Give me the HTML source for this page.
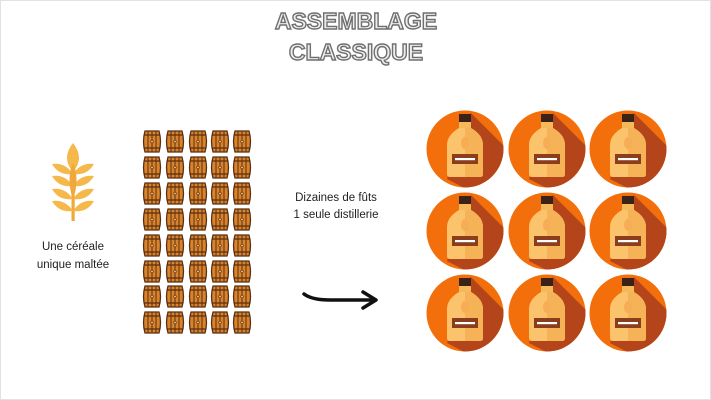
<!DOCTYPE html>
<html><head><meta charset="utf-8"><style>
html,body{margin:0;padding:0;background:#fff;}
body{width:711px;height:400px;overflow:hidden;}
svg{display:block;}
</style></head><body>
<svg width="711" height="400" viewBox="0 0 711 400" xmlns="http://www.w3.org/2000/svg">
<defs>
<g id="barrel">
  <path d="M2,1 H16 Q19,11.5 16,22 H2 Q-1,11.5 2,1 Z" fill="#d9842c" stroke="#5a2e10" stroke-width="1.3"/>
  <line x1="0.6" y1="5" x2="17.4" y2="5" stroke="#5a2e10" stroke-width="1.2"/>
  <line x1="0.6" y1="18" x2="17.4" y2="18" stroke="#5a2e10" stroke-width="1.2"/>
  <line x1="5" y1="1" x2="5" y2="22" stroke="#5a2e10" stroke-width="1"/>
  <line x1="9" y1="1" x2="9" y2="22" stroke="#5a2e10" stroke-width="1"/>
  <line x1="13" y1="1" x2="13" y2="22" stroke="#5a2e10" stroke-width="1"/>
  <circle cx="9" cy="11.5" r="1.3" fill="#f3c07a" stroke="#5a2e10" stroke-width="0.6"/>
</g>
<clipPath id="cc"><circle cx="0" cy="0" r="38.5"/></clipPath>
<g id="bottle">
  <circle cx="0" cy="0" r="38.5" fill="#f36f0c"/>
  <g clip-path="url(#cc)">
    <path d="M6,-36 L60,18 L40,60 L-18,30 Z" fill="#b4451a"/>
  </g>
  <rect x="-6" y="-35" width="12" height="9" fill="#3b2218"/>
  <rect x="-6" y="-27" width="12" height="6" fill="#f6b95a"/>
  <path d="M-6,-21 H6 Q18,-14 18,-4 V25 Q18,28 15,28 H-15 Q-18,28 -18,25 V-4 Q-18,-14 -6,-21 Z" fill="#fbc36b"/>
  <path d="M0,-21 H6 Q18,-14 18,-4 V25 Q18,28 15,28 H0 Z" fill="#f5b257"/>
  <rect x="-13" y="5" width="26" height="10" fill="#8c3d1c"/>
  <rect x="-10" y="9" width="20" height="2.2" fill="#fff"/>
  <ellipse cx="0" cy="-6" rx="4" ry="6" fill="#f7ad55"/>
</g>
<path id="leafL" d="M0,0 Q-8,-12 -21,-10 Q-14,2 0,0 Z"/>
<path id="leafR" d="M0,0 Q8,-12 21,-10 Q14,2 0,0 Z"/>
</defs>
<rect x="0.5" y="0.5" width="710" height="399" fill="none" stroke="#e2e2e2"/>
<g font-family="'Liberation Sans', sans-serif" font-weight="bold" font-size="23" fill="#eeeeee" stroke="#6f6f6f" stroke-width="1.4" text-anchor="middle">
  <text x="356" y="29">ASSEMBLAGE</text>
  <text x="356" y="60">CLASSIQUE</text>
</g>
<!-- wheat -->
<g fill="#f5b84a">
  <rect x="71.5" y="195" width="3.2" height="26" fill="#f0a83a"/>
  <path d="M73,143 Q85,158 73,172 Q61,158 73,143 Z"/>
  <use href="#leafL" x="73" y="174"/><use href="#leafR" x="73" y="174"/>
  <use href="#leafL" x="73" y="186"/><use href="#leafR" x="73" y="186"/>
  <use href="#leafL" x="73" y="199"/><use href="#leafR" x="73" y="199"/>
  <use href="#leafL" x="73" y="211"/><use href="#leafR" x="73" y="211"/>
  <path d="M73,163 Q80,178 73,200 Q66,178 73,163 Z" fill="#f0a83a"/>
</g>
<g font-family="'Liberation Sans', sans-serif" font-size="11.5" fill="#222" text-anchor="middle">
  <text x="73" y="250">Une céréale</text>
  <text x="73" y="268">unique maltée</text>
  <text x="336" y="201">Dizaines de fûts</text>
  <text x="336" y="218">1 seule distillerie</text>
</g>
<!-- barrels -->
<g>
  <use href="#barrel" x="143" y="130"/><use href="#barrel" x="166" y="130"/><use href="#barrel" x="189" y="130"/><use href="#barrel" x="211" y="130"/><use href="#barrel" x="233" y="130"/>
  <use href="#barrel" x="143" y="156"/><use href="#barrel" x="166" y="156"/><use href="#barrel" x="189" y="156"/><use href="#barrel" x="211" y="156"/><use href="#barrel" x="233" y="156"/>
  <use href="#barrel" x="143" y="182"/><use href="#barrel" x="166" y="182"/><use href="#barrel" x="189" y="182"/><use href="#barrel" x="211" y="182"/><use href="#barrel" x="233" y="182"/>
  <use href="#barrel" x="143" y="208"/><use href="#barrel" x="166" y="208"/><use href="#barrel" x="189" y="208"/><use href="#barrel" x="211" y="208"/><use href="#barrel" x="233" y="208"/>
  <use href="#barrel" x="143" y="234"/><use href="#barrel" x="166" y="234"/><use href="#barrel" x="189" y="234"/><use href="#barrel" x="211" y="234"/><use href="#barrel" x="233" y="234"/>
  <use href="#barrel" x="143" y="260"/><use href="#barrel" x="166" y="260"/><use href="#barrel" x="189" y="260"/><use href="#barrel" x="211" y="260"/><use href="#barrel" x="233" y="260"/>
  <use href="#barrel" x="143" y="285"/><use href="#barrel" x="166" y="285"/><use href="#barrel" x="189" y="285"/><use href="#barrel" x="211" y="285"/><use href="#barrel" x="233" y="285"/>
  <use href="#barrel" x="143" y="311"/><use href="#barrel" x="166" y="311"/><use href="#barrel" x="189" y="311"/><use href="#barrel" x="211" y="311"/><use href="#barrel" x="233" y="311"/>
</g>
<!-- arrow -->
<path d="M304,294 Q312,300 330,300 L375,300" fill="none" stroke="#111" stroke-width="3.5" stroke-linecap="round"/>
<path d="M363,292 L376,300 L363,308" fill="none" stroke="#111" stroke-width="3.5" stroke-linecap="round" stroke-linejoin="round"/>
<!-- bottles -->
<use href="#bottle" x="465" y="149"/><use href="#bottle" x="547" y="149"/><use href="#bottle" x="628" y="149"/>
<use href="#bottle" x="465" y="231"/><use href="#bottle" x="547" y="231"/><use href="#bottle" x="628" y="231"/>
<use href="#bottle" x="465" y="313"/><use href="#bottle" x="547" y="313"/><use href="#bottle" x="628" y="313"/>
</svg>
</body></html>
